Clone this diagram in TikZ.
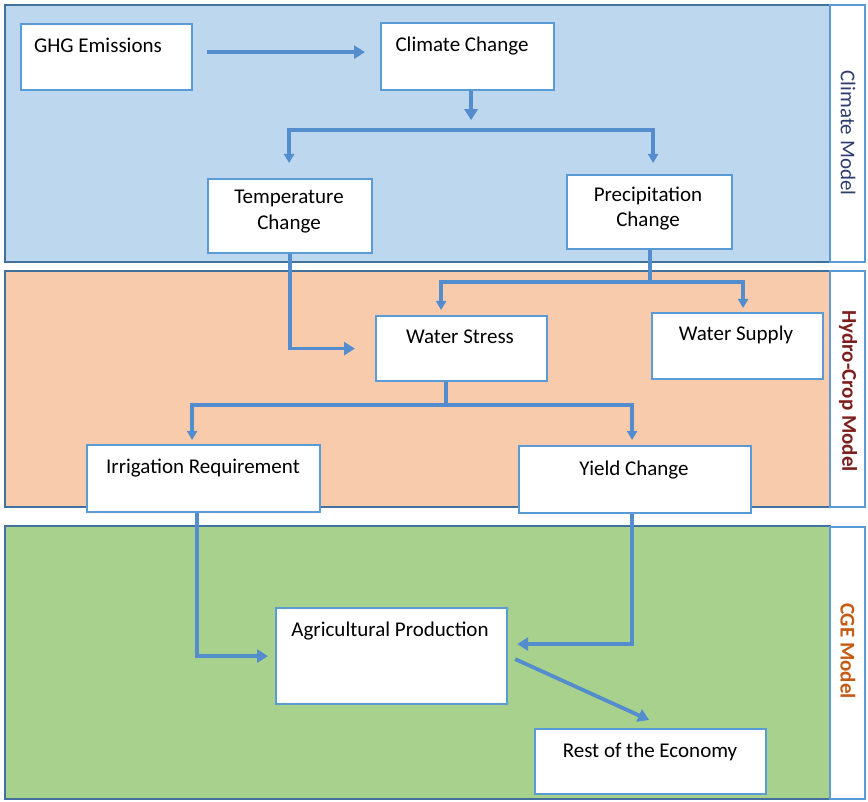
\documentclass[tikz,border=0pt]{standalone}
\usepackage{fontspec}
\setmainfont{Carlito}
\usetikzlibrary{arrows.meta,calc}
\definecolor{pblue}{RGB}{189,215,238}
\definecolor{porange}{RGB}{248,203,173}
\definecolor{pgreen}{RGB}{169,209,142}
\definecolor{pborder}{RGB}{65,113,156}
\definecolor{bxblue}{RGB}{91,155,213}
\definecolor{arblue}{RGB}{84,141,205}
\definecolor{labnavy}{RGB}{47,60,110}
\definecolor{labred}{RGB}{125,30,30}
\definecolor{laborange}{RGB}{197,90,17}
\begin{document}
\begin{tikzpicture}[x=1pt,y=-1pt,
  panel/.style={draw=pborder,line width=1.5pt},
  labbox/.style={draw=bxblue,fill=white,line width=1.5pt},
  box/.style={draw=bxblue,fill=white,line width=2.2pt,rectangle,inner sep=0pt,anchor=north west},
  txt/.style={font=\fontsize{21}{25}\selectfont,inner sep=0pt,anchor=base},
  lab/.style={font=\fontsize{21}{25}\selectfont,rotate=-90,inner sep=0pt},
  conn/.style={draw=arblue,line width=3.8pt},
  arr/.style={conn,-{Triangle[length=11pt,width=13pt]}},
  dbl/.style={conn,line join=miter,{Triangle[length=9pt,width=10pt]}-{Triangle[length=9pt,width=10pt]}}]
\useasboundingbox (0,0) rectangle (868,802);
% panels
\fill[pblue] (5,5) rectangle (830,262);
\draw[panel] (5,5) rectangle (830,262);
\draw[labbox] (830,5) rectangle (865,262);
\fill[porange] (5,271) rectangle (830,507);
\draw[panel] (5,271) rectangle (830,507);
\draw[labbox] (830,271) rectangle (865,507);
\fill[pgreen] (5,526) rectangle (830,799);
\draw[panel] (5,526) rectangle (830,799);
\draw[labbox] (830,527) rectangle (865,799);
\node[lab,text=labnavy] (labA) at (848,133) {Climate Model};
\node[lab,text=labred,font=\fontsize{21}{25}\selectfont\bfseries] (labB) at (848,391) {Hydro-Crop Model};
\node[lab,text=laborange,font=\fontsize{21}{25}\selectfont\bfseries] (labC) at (848,651) {CGE Model};
% boxes
\node[box,minimum width=171pt,minimum height=66pt] (ghg) at (20,23) {};
\node[box,minimum width=173pt,minimum height=67pt] (cc) at (380,22) {};
\node[box,minimum width=164pt,minimum height=74pt] (tc) at (207,178) {};
\node[box,minimum width=165pt,minimum height=74pt] (pc) at (566,174) {};
\node[box,minimum width=171pt,minimum height=65pt] (ws) at (375,315) {};
\node[box,minimum width=171pt,minimum height=66pt] (wsup) at (651,312) {};
\node[box,minimum width=233pt,minimum height=67pt] (ir) at (86,444) {};
\node[box,minimum width=232pt,minimum height=67pt] (yc) at (518,445) {};
\node[box,minimum width=231pt,minimum height=96pt] (ap) at (275,607) {};
\node[box,minimum width=231pt,minimum height=65pt] (re) at (534,728) {};
% texts
\node[txt] (ghgT) at (98,53) {GHG Emissions};
\node[txt] (ccT) at (462,52) {Climate Change};
\node[txt] (tcT1) at (289,204) {Temperature};
\node[txt] (tcT2) at (289,230) {Change};
\node[txt] (pcT1) at (648,202) {Precipitation};
\node[txt] (pcT2) at (648,227) {Change};
\node[txt] (wsT) at (460,344) {Water Stress};
\node[txt] (wsupT) at (736,341) {Water Supply};
\node[txt] (irT) at (203,473) {Irrigation Requirement};
\node[txt] (ycT) at (634,475) {Yield Change};
\node[txt] (apT) at (390,636) {Agricultural Production};
\node[txt] (reT) at (650,757) {Rest of the Economy};
% connectors
\draw[arr] ($(ghg.east)+(14,-5)$) -- ($(cc.west)+(-15,-4.5)$);
\draw[arr] ($(cc.south)+(3.5,0)$) -- ($(cc.south)+(3.5,29)$);
\coordinate (b1R) at ($(pc.north)+(3.5,-44)$);
\draw[dbl] ($(tc.north)+(-1,-15)$) |- (b1R) -- ($(pc.north)+(3.5,-11)$);
\draw[arr] (tc.south) |- ($(ws.west)+(-20,0)$);
\coordinate (b2R) at ($(wsup.north)+(5.5,-30)$);
\draw[conn] (pc.south) -- (pc.south |- b2R);
\draw[dbl] ($(ws.north)+(-20.5,-5)$) |- (b2R) -- ($(wsup.north)+(5.5,-4)$);
\coordinate (b3R) at ($(yc.north)+(-3,-40)$);
\draw[conn] ($(ws.south)+(-15.5,0)$) -- ($(ws.south)+(-15.5,25)$);
\draw[dbl] ($(ir.north)+(-11.5,-4)$) |- (b3R) -- ($(yc.north)+(-3,-5)$);
\draw[arr] ($(ir.south)+(-6.5,0)$) |- ($(ap.west)+(-7,0)$);
\draw[arr] ($(yc.south)+(-3,0)$) |- ($(ap.east)+(9,-12)$);
\draw[arr] ($(ap.east)+(7,3)$) -- ($(re.north)+(-1.5,-8)$);
\end{tikzpicture}
\end{document}
